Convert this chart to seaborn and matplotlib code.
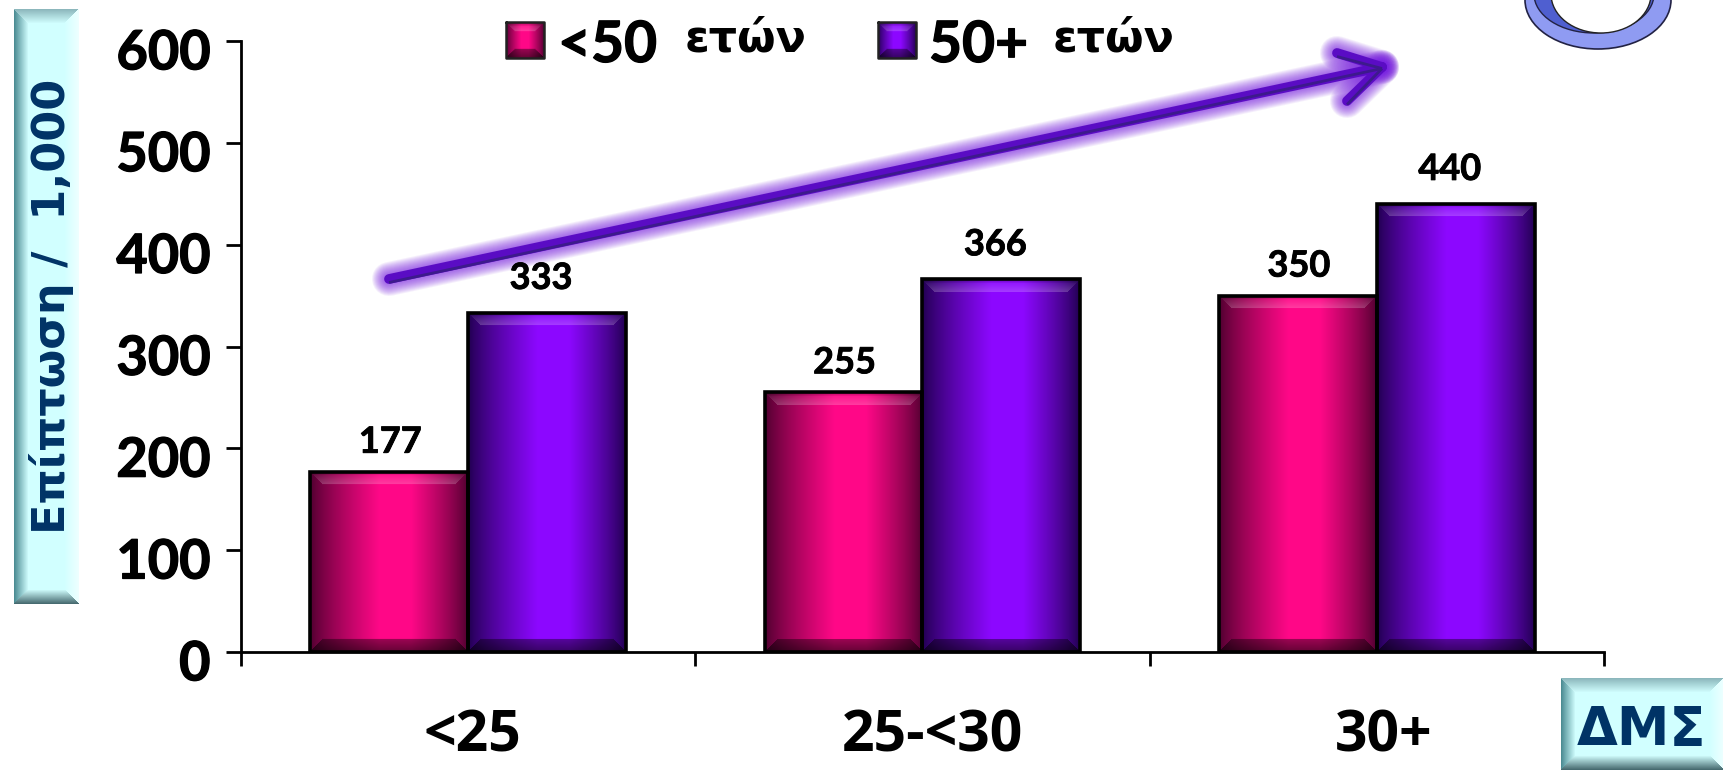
import numpy as np
import pandas as pd
import matplotlib
matplotlib.use("Agg")
import matplotlib.pyplot as plt
import matplotlib.patheffects as pe
from matplotlib.patches import Ellipse
from matplotlib.transforms import ScaledTranslation
import seaborn as sns

# Incidence per 1,000 by BMI class and age group
bmi_classes = ["<25", "25-<30", "30+"]
under_50 = [177, 255, 350]
over_50 = [333, 366, 440]
age_groups = ["<50 ετών", "50+ ετών"]
y_ticks = [0, 100, 200, 300, 400, 500, 600]

W, H = 1724, 770
sns.set_theme(style="white")
LATIN = "Lato"
GREEK = "DejaVu Sans"
NAVY = "#003366"
PINK = ((0.30, 0.00, 0.18), (1.00, 0.03, 0.53))
VIOLET = ((0.12, 0.00, 0.30), (0.55, 0.03, 1.00))
HEAVY = [pe.withStroke(linewidth=0.9, foreground="black")]

frame = pd.DataFrame({
    "bmi": bmi_classes * 2,
    "value": under_50 + over_50,
    "age": [age_groups[0]] * 3 + [age_groups[1]] * 3,
})

fig = plt.figure(figsize=(W / 100, H / 100), dpi=100, facecolor="white")
deco = fig.add_axes([0, 0, 1, 1], zorder=-1)
deco.set_xlim(0, W)
deco.set_ylim(H, 0)
deco.axis("off")

ax = fig.add_axes([241 / W, 1 - 652 / H, (1604 - 241) / W, (652 - 41) / H])
ax.patch.set_alpha(0)
sns.barplot(data=frame, x="bmi", y="value", hue="age", hue_order=age_groups,
            order=bmi_classes, width=0.695, gap=0, dodge=True, legend=False,
            palette=["#ff0a88", "#8b08ff"], ax=ax, zorder=2)


def bevel_face(dark, bright, w, h, bevel=13, bright_at=0.55):
    """RGB array of a bar face: dark-bright-dark sweep with a bevelled rim."""
    dark, bright = np.array(dark), np.array(bright)
    u = (np.arange(w) + 0.5) / w
    t = np.where(u < bright_at, u / bright_at, (1 - u) / (1 - bright_at))
    t = np.clip(t * 1.25, 0, 1) ** 0.8
    row = dark + (bright - dark) * t[:, None]
    img = np.repeat(row[None, :, :], h, axis=0)
    yy, xx = np.mgrid[0:h, 0:w]
    top = (yy < bevel) & (xx >= yy) & (w - 1 - xx >= yy)
    bot = ((h - 1 - yy) < bevel) & (xx >= h - 1 - yy) & (w - 1 - xx >= h - 1 - yy)
    # top rim: saturated edge brightening into a pale band
    k = (yy / bevel)[..., None] * top[..., None]
    img = img * (1 - 0.22 * k) + 0.22 * k
    img = np.where(top[..., None], img * (0.72 + 0.28 * np.clip(yy / 4, 0, 1))[..., None], img)
    # bottom rim is a shaded band, a little deeper at its foot
    foot = np.clip((h - 1 - yy) / bevel, 0, 1)[..., None]
    img = np.where(bot[..., None], img * (0.40 + 0.22 * foot), img)
    return np.clip(img, 0, 1)


for patch in list(ax.patches):
    x0, w_d, h_d = patch.get_x(), patch.get_width(), patch.get_height()
    ramp = PINK if x0 + w_d / 2 < np.floor(x0 + w_d / 2 + 0.5) else VIOLET
    w_px = int(round(w_d * (1604 - 241) / 3))
    h_px = int(round(h_d * (652 - 41) / 600))
    if h_px == 0:
        continue
    ax.imshow(bevel_face(ramp[0], ramp[1], w_px, h_px), extent=(x0, x0 + w_d, 0, h_d),
              origin="upper", aspect="auto", zorder=2.5, interpolation="bilinear")
    patch.set(facecolor="none", edgecolor="black", linewidth=2.6, zorder=3)

ax.set_xlim(-0.5, 2.5)
ax.set_ylim(0, 600)

# value labels sit higher above the older group's bars
for container, values, dx, dy in zip(ax.containers, (under_50, over_50), (1, -6), (19, 24)):
    for patch, val in zip(container, values):
        ax.annotate(str(val), (patch.get_x() + patch.get_width() / 2, patch.get_height()),
                    xytext=(dx * 0.72, dy * 0.72), textcoords="offset points", ha="center",
                    va="baseline", fontsize=26, fontweight="bold", family=LATIN, color="black",
                    path_effects=[pe.withStroke(linewidth=0.6, foreground="black")])

sns.despine(ax=ax)
for s in ("left", "bottom"):
    ax.spines[s].set_linewidth(2)
    ax.spines[s].set_color("black")
ax.spines["bottom"].set_zorder(4)

ax.set_yticks(y_ticks)
ax.tick_params(axis="y", length=11, width=2, color="black", left=True, pad=11)
ax.set_xticks(range(len(bmi_classes)), bmi_classes)
ax.set_xticks([-0.5, 0.5, 1.5, 2.5], minor=True)
ax.tick_params(axis="x", which="major", length=0, pad=40)
ax.tick_params(axis="x", which="minor", length=10, width=2, color="black", bottom=True)

ynudge = ScaledTranslation(0, -6 / 72, fig.dpi_scale_trans)
for lab in ax.get_yticklabels():
    lab.set(fontsize=39, fontweight="bold", family=LATIN, color="black", path_effects=HEAVY)
    lab.set_transform(lab.get_transform() + ynudge)
for lab, dx in zip(ax.get_xticklabels(), (4, 9, 6)):
    lab.set(fontsize=41, fontweight="bold", family="Open Sans", color="black")
    lab.set_transform(lab.get_transform() + ScaledTranslation(dx * 0.8 / 72, 0, fig.dpi_scale_trans))


def bevel_box(x0, y0, x1, y1, bevel=14, fill=(0.82, 1.0, 1.0)):
    """Pale cyan plate with four shaded rims."""
    w, h = int(x1 - x0), int(y1 - y0)
    yy, xx = np.mgrid[0:h, 0:w]
    fill = np.array(fill)
    img = np.tile(fill, (h, w, 1))
    d_l, d_r, d_t, d_b = xx, w - 1 - xx, yy, h - 1 - yy
    dm = np.minimum.reduce([d_l, d_r, d_t, d_b])
    rim = dm < bevel
    shade = np.clip(dm / bevel, 0, 1)[..., None]
    tones = {
        "l": (d_l == dm, np.array((0.30, 0.55, 0.58))),
        "t": (d_t == dm, np.array((0.55, 0.72, 0.74))),
        "r": (d_r == dm, np.array((0.93, 1.00, 1.00))),
        "b": (d_b == dm, np.array((0.28, 0.42, 0.44))),
    }
    for side, (mask, col) in tones.items():
        blended = col * (1 - shade) + fill * shade
        img = np.where((mask & rim)[..., None], blended, img)
    deco.imshow(img, extent=(x0, x1, y1, y0), aspect="auto", zorder=1)


bevel_box(14, 9, 79, 604)
bevel_box(1561, 678, 1724, 770)
deco.set_xlim(0, W)
deco.set_ylim(H, 0)

# axis titles live on their plates
ax.set_ylabel("Επίπτωση /  1,000", fontsize=32, fontweight="bold", family=GREEK, color=NAVY)
ax.yaxis.set_label_coords(52 / W, 1 - 306 / H, transform=fig.transFigure)
ax.set_xlabel("ΔΜΣ", fontsize=38, fontweight="bold", family=GREEK, color=NAVY)
ax.xaxis.set_label_coords(1641 / W, 1 - 730 / H, transform=fig.transFigure)
ax.xaxis.label.set_va("center")
ax.yaxis.label.set_va("center")

# rising trend arrow with a soft glow
tail, tip = (389, 279), (1382, 67)
barbs = [(1337, 53), (1347, 101)]
segments = [(tail, tip)] + [(b, tip) for b in barbs]
for lw in np.linspace(34, 10, 14):
    for a, b in segments:
        deco.plot([a[0], b[0]], [a[1], b[1]], color="#7a1fe0", lw=lw * 0.72, alpha=0.07,
                  solid_capstyle="round", zorder=2)
for a, b in segments:
    deco.plot([a[0], b[0]], [a[1], b[1]], color="#5a0cc4", lw=7, solid_capstyle="round", zorder=3)
    deco.plot([a[0], b[0]], [a[1] + 3.5, b[1] + 1.5], color="#3d1a8c", lw=2,
              solid_capstyle="butt", zorder=3.1)

# legend swatches and entries
for (sx, ramp) in ((506, PINK), (878, VIOLET)):
    deco.imshow(bevel_face(ramp[0], ramp[1], 36, 35, bevel=9, bright_at=0.5),
                extent=(sx, sx + 38, 58, 22), aspect="auto", zorder=3)
    deco.plot([sx, sx + 38, sx + 38, sx, sx], [22, 22, 58, 58, 22], color="#222222", lw=1.8, zorder=3.2)
legend_text = [(558, "<50", LATIN, 41), (685, "ετών", GREEK, 32),
               (929, "50+", LATIN, 41), (1053, "ετών", GREEK, 32)]
for tx, s, fam, size in legend_text:
    t = deco.text(tx, 62 if fam == LATIN else 52, s, family=fam, fontsize=size, fontweight="bold",
                  color="black", ha="left", va="baseline", zorder=4)
    if fam == LATIN:
        t.set_path_effects(HEAVY)

# corner emblem, cropped by the top edge
deco.add_patch(Ellipse((1598, 0), 146, 98, fc="#8f9bf2", ec="#222244", lw=1.2, zorder=2))
deco.add_patch(Ellipse((1594, -6), 120, 78, fc="#4f5fd0", ec="#222244", lw=1.0, zorder=2.1))
deco.add_patch(Ellipse((1601, -6), 100, 78, fc="white", ec="#222222", lw=1.0, zorder=2.2))
deco.set_xlim(0, W)
deco.set_ylim(H, 0)

fig.savefig("out.png", dpi=100, facecolor="white")
